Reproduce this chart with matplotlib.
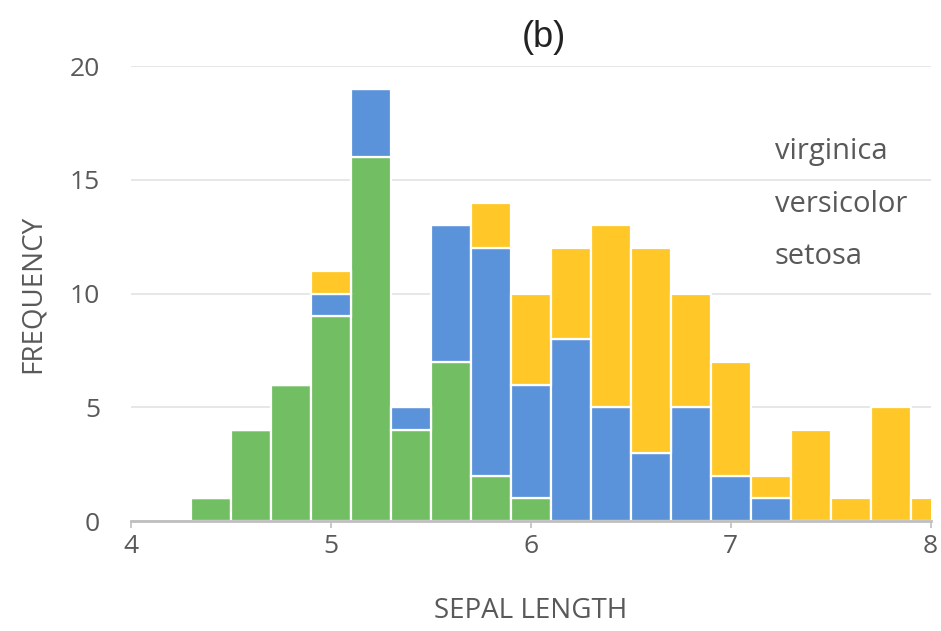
import numpy as np
import matplotlib
matplotlib.use("Agg")
import matplotlib.pyplot as plt

# bin centres (width 0.2)
centres = [4.4, 4.6, 4.8, 5.0, 5.2, 5.4, 5.6, 5.8, 6.0, 6.2,
           6.4, 6.6, 6.8, 7.0, 7.2, 7.4, 7.6, 7.8, 8.0]
setosa = [1, 4, 6, 9, 16, 4, 7, 2, 1, 0, 0, 0, 0, 0, 0, 0, 0, 0, 0]
versicolor = [0, 0, 0, 1, 3, 1, 6, 10, 5, 8, 5, 3, 5, 2, 1, 0, 0, 0, 0]
virginica = [0, 0, 0, 1, 0, 0, 0, 2, 4, 4, 8, 9, 5, 5, 1, 4, 1, 5, 1]

species = ["setosa", "versicolor", "virginica"]
colors = ["#72BE63", "#5B93DA", "#FFC828"]

x_ticks = [4, 5, 6, 7, 8]
y_ticks = [0, 5, 10, 15, 20]

plt.rcParams["font.family"] = ["Open Sans", "DejaVu Sans"]
gray = "#595959"

fig = plt.figure(figsize=(9.41, 6.31), dpi=100)
ax = fig.add_axes([0.139, 0.174, 0.850, 0.721])

bottom = np.zeros(len(centres))
for name, vals, col in zip(species, [setosa, versicolor, virginica], colors):
    ax.bar(centres, vals, width=0.2, bottom=bottom, color=col,
           edgecolor="white", linewidth=1.6, zorder=3, label=name)
    bottom += np.array(vals)

ax.set_xlim(4, 8)
ax.set_ylim(0, 20)
ax.set_xticks(x_ticks)
ax.set_yticks(y_ticks)
ax.yaxis.grid(True, color="#E3E3E3", linewidth=1.2, zorder=0)
ax.set_axisbelow(True)
for s in ["top", "right", "left"]:
    ax.spines[s].set_visible(False)
ax.spines["bottom"].set_color("#BFBFBF")
ax.spines["bottom"].set_linewidth(2)
ax.spines["bottom"].set_zorder(4)
ax.tick_params(axis="y", length=0, pad=22, labelsize=19, labelcolor=gray)
ax.tick_params(axis="x", length=5, width=1.2, color="#BFBFBF",
               pad=4, labelsize=19, labelcolor=gray)

ax.set_xlabel("SEPAL LENGTH", fontsize=20, color=gray)
ax.set_ylabel("FREQUENCY", fontsize=20, color=gray)
ax.xaxis.set_label_coords(0.5, -0.167)
ax.yaxis.set_label_coords(-0.105, 0.5)

fig.text(0.578, 0.94, "(b)", ha="center", va="center", fontsize=26,
         color="#222222", family=["Liberation Sans", "DejaVu Sans"])

# legend as plain text
for label, ypix in [("virginica", 152), ("versicolor", 204), ("setosa", 257)]:
    fig.text(775 / 941, 1 - ypix / 631, label, ha="left", va="center",
             fontsize=21, color=gray)

fig.savefig("out.png", dpi=100)
